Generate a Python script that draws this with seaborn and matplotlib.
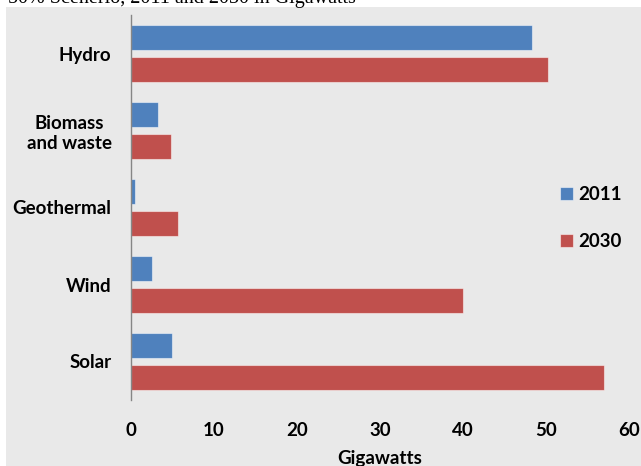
import matplotlib
matplotlib.use("Agg")
import matplotlib.pyplot as plt
from matplotlib.patches import Rectangle
import seaborn as sns
import pandas as pd

categories = ["Hydro", "Biomass\nand waste", "Geothermal", "Wind", "Solar"]
years = ["2011", "2030"]
values_2011 = [48.3, 3.3, 0.5, 2.5, 4.9]
values_2030 = [50.2, 4.8, 5.7, 40.0, 57.0]
x_ticks = [0, 10, 20, 30, 40, 50, 60]

df = pd.DataFrame({
    "Source": categories * 2,
    "Gigawatts": values_2011 + values_2030,
    "Year": [years[0]] * len(categories) + [years[1]] * len(categories),
})

sns.set_style("white")
plt.rcParams["font.family"] = ["Lato", "DejaVu Sans"]
plt.rcParams["text.color"] = "black"
plt.rcParams["xtick.color"] = "black"
plt.rcParams["ytick.color"] = "black"
plt.rcParams["axes.labelcolor"] = "black"

FS = 13.5
W, H = 641, 466
fig = plt.figure(figsize=(W / 100, H / 100), dpi=100)
fig.patch.set_facecolor("white")
bg = "#E9E9E9"
fig.patches.append(Rectangle((6 / W, 0), 1, 1 - 7 / H, transform=fig.transFigure,
                             facecolor=bg, edgecolor="none", zorder=-10))

fig.text(356 / W, 1 - 3 / H, "50% Scenerio, 2011 and 2030 in Gigawatts",
         ha="right", va="baseline", fontsize=14.5, family="Liberation Serif",
         color="black")

ax = fig.add_axes([131 / W, 1 - 400 / H, (629 - 131) / W, 385 / H])
ax.set_facecolor("none")
ax.set_zorder(5)

palette = {"2011": "#4F81BD", "2030": "#C0504D"}
sns.barplot(data=df, y="Source", x="Gigawatts", hue="Year", orient="h",
            palette=palette, width=0.83, gap=0.22, ax=ax, linewidth=0.8,
            edgecolor="#FFFFFF80", saturation=1)

ax.set_xlim(0, 60)
ax.set_xticks(x_ticks)
ax.set_xticklabels([str(t) for t in x_ticks], fontsize=FS, fontweight="bold")
ax.set_yticks(range(len(categories)))
ax.set_yticklabels(categories, fontsize=FS, fontweight="bold", multialignment="center")
ax.tick_params(axis="x", length=0, pad=16)
ax.tick_params(axis="y", length=0, pad=14)
for s in ["top", "right", "bottom"]:
    ax.spines[s].set_visible(False)
ax.spines["left"].set_color("#868686")
ax.spines["left"].set_linewidth(1)
ax.set_ylabel("")
ax.set_xlabel("Gigawatts", fontsize=FS, fontweight="bold", labelpad=8)

handles, labels = ax.get_legend_handles_labels()
if ax.legend_:
    ax.legend_.remove()
leg = fig.legend(handles, labels, loc="center left",
                 bbox_to_anchor=(543 / W, 1 - 218 / H), bbox_transform=fig.transFigure,
                 frameon=False, handlelength=0.7, handleheight=0.7, handletextpad=0.3,
                 labelspacing=1.6, prop={"family": "Lato", "weight": "bold", "size": FS})
leg.set_zorder(6)

fig.savefig("out.png", dpi=100, facecolor="white")
